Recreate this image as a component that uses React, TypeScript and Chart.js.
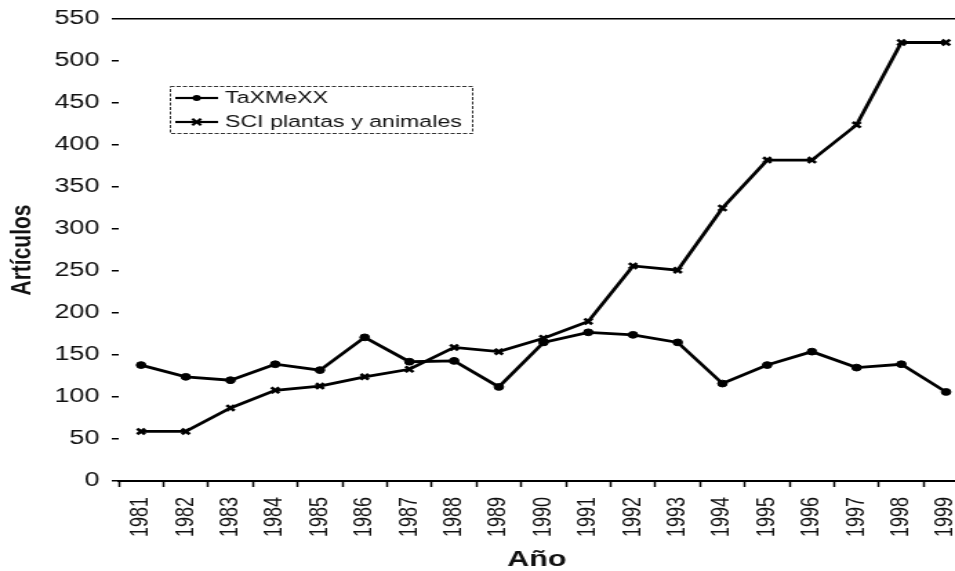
import React, { useEffect, useRef } from "react";
import { Chart, registerables } from "chart.js";

Chart.register(...registerables);

// ---- data ----
const years = [1981, 1982, 1983, 1984, 1985, 1986, 1987, 1988, 1989, 1990, 1991, 1992, 1993, 1994, 1995, 1996, 1997, 1998, 1999];
const taxmexx = [138, 124, 120, 139, 132, 171, 142, 143, 112, 165, 177, 174, 165, 116, 138, 154, 135, 139, 106];
const sciPlantasAnimales = [59, 59, 87, 108, 113, 124, 133, 159, 154, 170, 190, 256, 251, 325, 382, 382, 424, 522, 522];
const yTickValues = [0, 50, 100, 150, 200, 250, 300, 350, 400, 450, 500, 550];
const seriesLabels = ["TaXMeXX", "SCI plantas y animales"];
const xTitle = "Año";
const yTitle = "Artículos";

// ---- layout ----
const CSS_W = 955;
const CSS_H = 571;
const STRETCH = 1.38; // the reference is stretched horizontally
const W = Math.round(CSS_W / STRETCH);
const H = CSS_H;
const FONT = "'Liberation Sans', Arial, Helvetica, sans-serif";
const INK = "#111";

const insideLegend = {
  id: "insideLegend",
  afterDraw(chart: any) {
    const ctx = chart.ctx as CanvasRenderingContext2D;
    ctx.save();
    const bx = 123, by = 86, bw = 219, bh = 47;
    ctx.strokeStyle = "#333";
    ctx.lineWidth = 1;
    ctx.setLineDash([3, 1.5]);
    ctx.strokeRect(bx + 0.5, by + 0.5, bw, bh);
    ctx.setLineDash([]);
    const rows = [98, 122];
    chart.data.datasets.forEach((ds: any, i: number) => {
      const y = rows[i];
      const x0 = 127, x1 = 158, xm = (x0 + x1) / 2;
      ctx.strokeStyle = ds.borderColor;
      ctx.lineWidth = 2.2;
      ctx.beginPath();
      ctx.moveTo(x0, y);
      ctx.lineTo(x1, y);
      ctx.stroke();
      ctx.fillStyle = ds.borderColor;
      if (ds.pointStyle === "circle") {
        ctx.beginPath();
        ctx.arc(xm, y, 3, 0, Math.PI * 2);
        ctx.fill();
      } else {
        const r = 3.2;
        ctx.lineWidth = 2.2;
        ctx.beginPath();
        ctx.moveTo(xm - r, y - r);
        ctx.lineTo(xm + r, y + r);
        ctx.moveTo(xm + r, y - r);
        ctx.lineTo(xm - r, y + r);
        ctx.stroke();
      }
      ctx.fillStyle = INK;
      ctx.font = `16.8px ${FONT}`;
      ctx.textAlign = "left";
      ctx.textBaseline = "middle";
      ctx.fillText(ds.label, 163, y + 0.5);
    });
    ctx.restore();
  },
};

export default function App() {
  const ref = useRef<HTMLCanvasElement | null>(null);

  useEffect(() => {
    document.body.style.margin = "0";
    document.body.style.background = "#fff";
    const canvas = ref.current;
    if (!canvas) return;

    const xTickValues: number[] = [];
    for (let i = 0; i < years.length; i++) {
      xTickValues.push(years[i]);
      if (i < years.length - 1) xTickValues.push(years[i] + 0.5);
    }
    xTickValues.unshift(years[0] - 0.5);

    const chart = new Chart(canvas, {
      type: "line",
      data: {
        datasets: [
          {
            label: seriesLabels[0],
            data: years.map((yr, i) => ({ x: yr, y: taxmexx[i] })),
            borderColor: "#000",
            backgroundColor: "#000",
            borderWidth: 2.8,
            pointStyle: "circle",
            pointRadius: 3.4,
            pointBorderWidth: 1,
            tension: 0,
            clip: false,
          },
          {
            label: seriesLabels[1],
            data: years.map((yr, i) => ({ x: yr, y: sciPlantasAnimales[i] })),
            borderColor: "#000",
            backgroundColor: "#000",
            borderWidth: 2.8,
            pointStyle: "crossRot",
            pointRadius: 4,
            pointBorderWidth: 2.6,
            tension: 0,
            clip: false,
          },
        ],
      },
      options: {
        responsive: false,
        animation: false,
        devicePixelRatio: 1,
        events: [],
        layout: { autoPadding: false, padding: { top: 19, left: 0, right: 0, bottom: 0 } },
        plugins: {
          legend: { display: false },
          tooltip: { enabled: false },
        },
        scales: {
          x: {
            type: "linear",
            min: years[0] - 0.5,
            max: years[years.length - 1] + 0.2,
            afterBuildTicks: (s: any) => {
              s.ticks = xTickValues.map((v) => ({ value: v }));
            },
            afterFit: (s: any) => {
              s.height = 90;
              s.paddingLeft = 0;
              s.paddingRight = 0;
            },
            grid: {
              drawOnChartArea: false,
              drawTicks: true,
              tickLength: 6,
              tickWidth: 1.5,
              tickColor: (c: any) => (c.tick && Number.isInteger(c.tick.value) ? "rgba(0,0,0,0)" : "#000"),
            },
            border: { display: true, color: "#000", width: 2 },
            ticks: {
              autoSkip: false,
              maxRotation: 90,
              minRotation: 90,
              padding: 10,
              color: INK,
              font: { family: FONT, size: 18 },
              callback: (v: any) => (Number.isInteger(v) ? String(v) : ""),
            },
            title: {
              display: true,
              text: xTitle,
              color: INK,
              font: { family: FONT, size: 22, weight: "bold", lineHeight: 1 },
              padding: { top: 0, bottom: 0 },
            },
          },
          y: {
            type: "linear",
            min: 0,
            max: 550,
            afterBuildTicks: (s: any) => {
              s.ticks = yTickValues.map((v) => ({ value: v }));
            },
            afterFit: (s: any) => {
              s.width = 86;
              s.paddingTop = 0;
              s.paddingBottom = 0;
            },
            grid: {
              color: (c: any) => (c.tick && c.tick.value === 550 ? "#000" : "rgba(0,0,0,0)"),
              lineWidth: 1.5,
              drawTicks: true,
              tickColor: "#000",
              tickLength: 5,
              tickWidth: 1.5,
            },
            border: { display: false },
            ticks: {
              padding: 9,
              color: INK,
              font: { family: FONT, size: 19.5 },
            },
            title: {
              display: true,
              text: yTitle,
              color: INK,
              font: { family: FONT, size: 21, weight: "bold", lineHeight: 1 },
              padding: { top: 5.5, bottom: 0 },
            },
          },
        },
      },
      plugins: [insideLegend],
    } as any);

    return () => chart.destroy();
  }, []);

  return (
    <div style={{ width: CSS_W, height: CSS_H, overflow: "hidden", background: "#fff" }}>
      <canvas
        ref={ref}
        width={W}
        height={H}
        style={{ width: `${CSS_W}px`, height: `${CSS_H}px`, display: "block" }}
      />
    </div>
  );
}
